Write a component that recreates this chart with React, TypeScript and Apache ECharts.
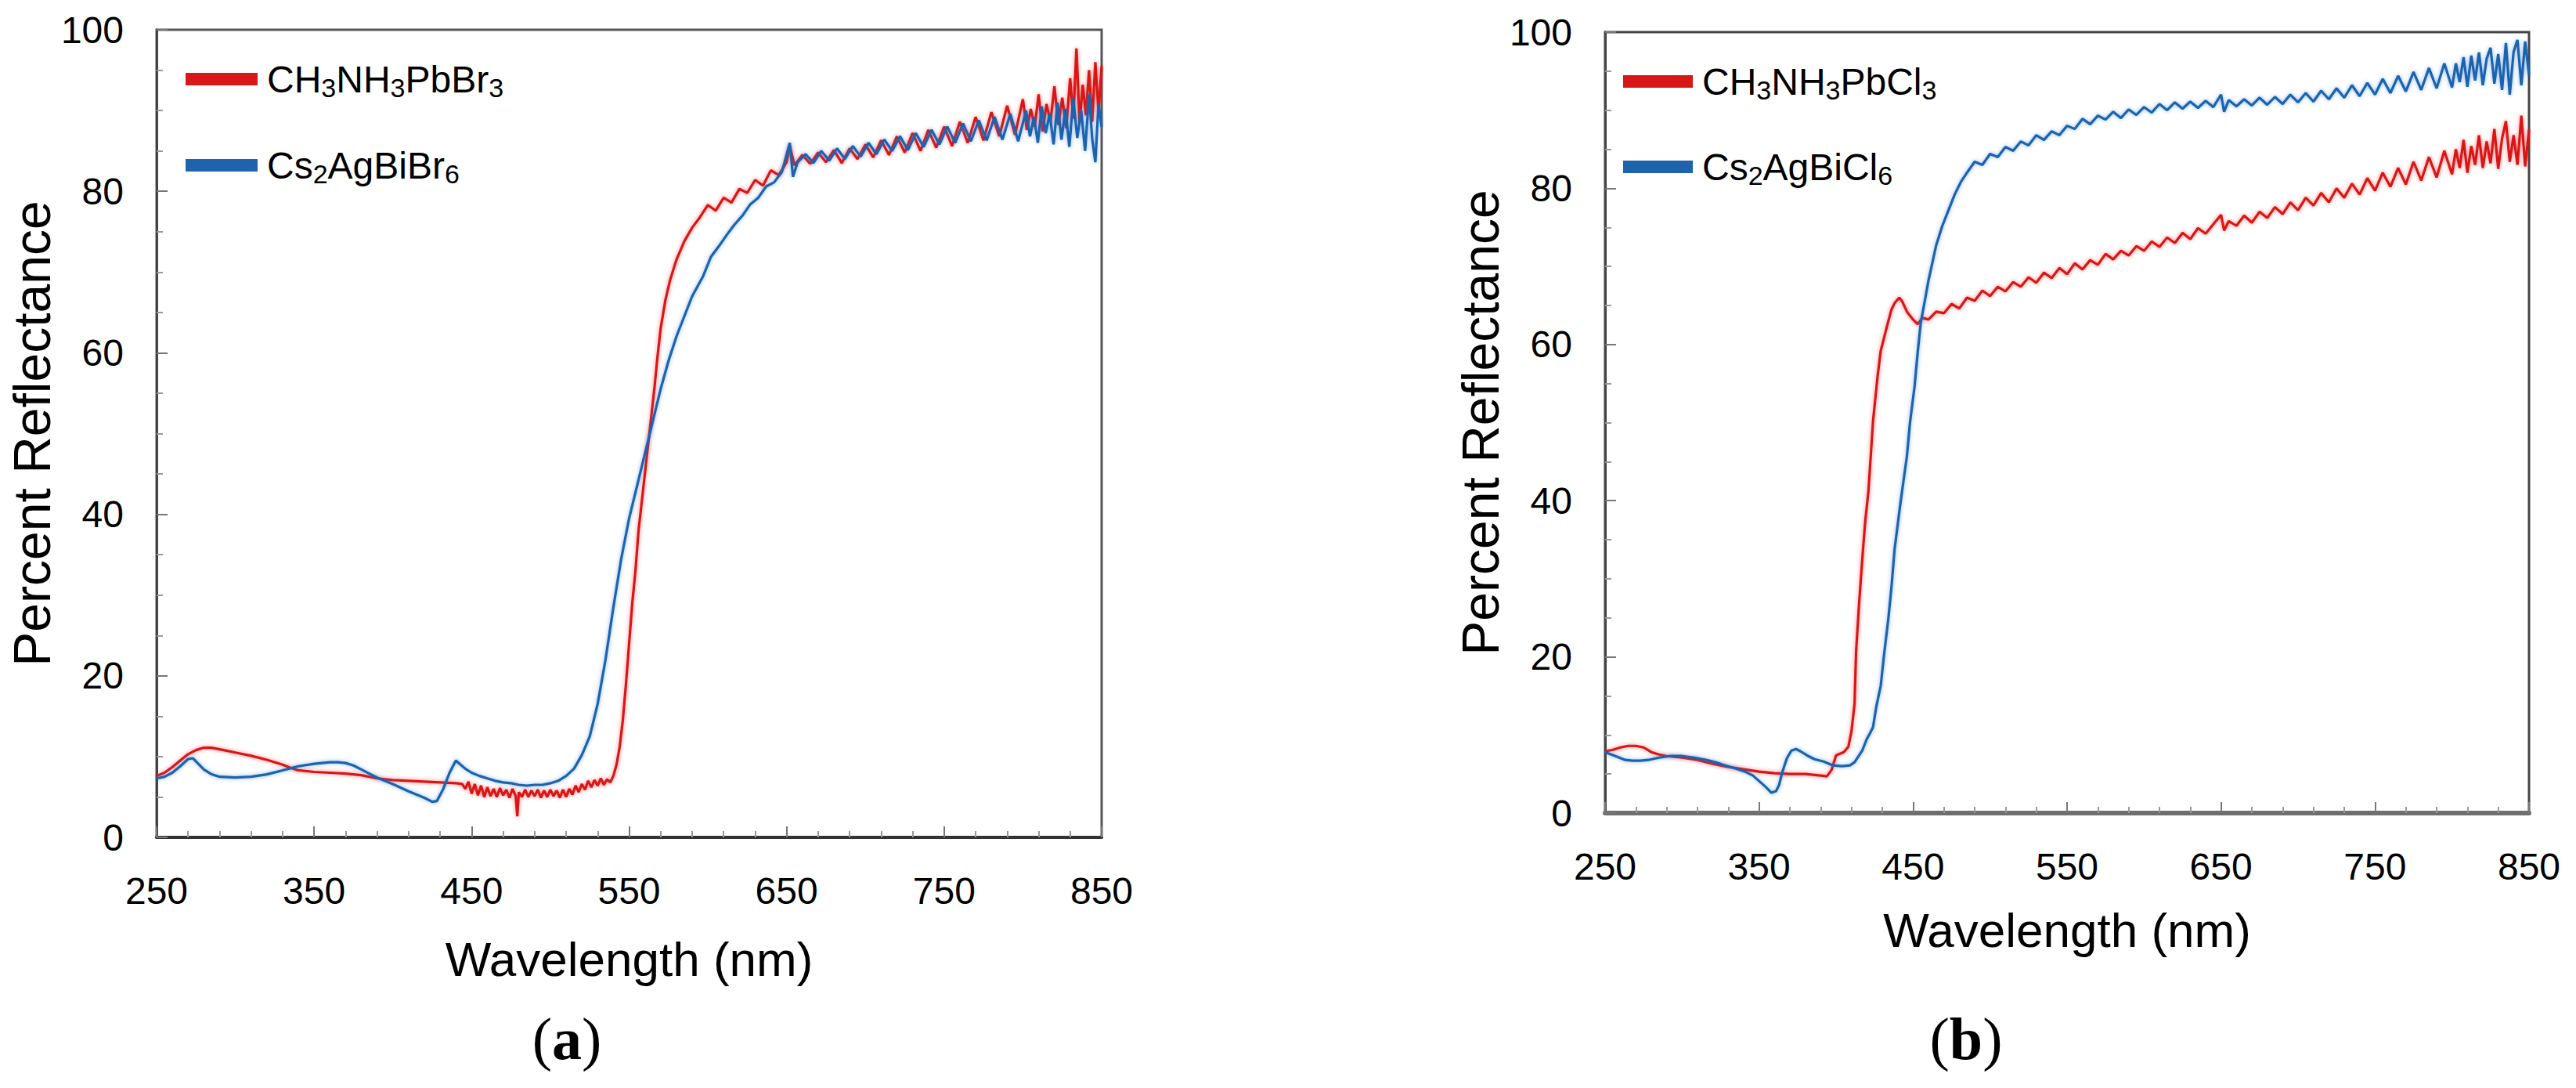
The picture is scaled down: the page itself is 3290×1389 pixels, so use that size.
import React, { useEffect, useRef } from "react";
import * as echarts from "echarts";

const FONT_SANS = "'Liberation Sans', Arial, sans-serif";
const FONT_SERIF = "'Liberation Serif', 'Times New Roman', serif";

// ---- panel (a): series names ----
const nameA1 = "CH3NH3PbBr3";
const nameA2 = "Cs2AgBiBr6";
// ---- panel (b): series names ----
const nameB1 = "CH3NH3PbCl3";
const nameB2 = "Cs2AgBiCl6";

const legendLabels: Record<string, string> = {
  CH3NH3PbBr3: "CH{s|3}NH{s|3}PbBr{s|3}",
  Cs2AgBiBr6: "Cs{s|2}AgBiBr{s|6}",
  CH3NH3PbCl3: "CH{s|3}NH{s|3}PbCl{s|3}",
  Cs2AgBiCl6: "Cs{s|2}AgBiCl{s|6}",
};

// axis ticks
const xMin = 250;
const xMax = 850;
const xStep = 100;
const yMin = 0;
const yMax = 100;
const yStep = 20;

// (a) CH3NH3PbBr3  [wavelength nm, % reflectance]
const aPbBr3: [number, number][] = [
  [250, 7.6], [255, 8.0], [260, 8.7], [265, 9.5], [270, 10.3], [275, 10.8], [280, 11.1], [285, 11.1],
  [290, 10.9], [295, 10.7], [300, 10.5], [310, 10.1], [320, 9.6], [330, 9.0], [335, 8.6], [340, 8.3],
  [350, 8.1], [360, 8.0], [370, 7.9], [380, 7.7], [390, 7.3], [400, 7.1], [410, 7.0], [420, 6.9],
  [430, 6.8], [440, 6.7], [444, 6.6], [446, 6.0], [448, 6.9], [450, 5.4], [452, 6.6], [454, 5.2],
  [456, 6.4], [458, 5.0], [460, 6.2], [462, 5.1], [464, 6.0], [466, 5.0], [468, 6.1], [470, 5.2],
  [472, 5.9], [474, 4.9], [476, 6.0], [478, 5.1], [479, 2.6], [480, 5.6], [482, 5.0], [484, 5.9],
  [486, 5.0], [488, 5.8], [490, 5.1], [492, 5.9], [494, 4.9], [496, 5.8], [498, 5.0], [500, 5.9],
  [502, 5.1], [504, 5.8], [506, 4.9], [508, 5.9], [510, 5.0], [512, 6.0], [514, 5.3], [516, 6.4],
  [518, 5.6], [520, 6.6], [522, 5.9], [524, 7.0], [526, 6.2], [528, 7.1], [530, 6.4], [532, 7.3],
  [534, 6.5], [536, 7.2], [538, 6.8], [540, 7.6], [542, 9.0], [544, 11.2], [546, 14.5], [548, 19],
  [550, 24], [552, 29], [554, 33], [556, 38], [558, 41.5], [560, 45], [562, 48.5], [564, 52],
  [566, 55.5], [568, 59.5], [570, 63], [573, 66.5], [576, 69], [580, 71.5], [585, 73.8], [590, 75.5],
  [595, 76.8], [600, 78.3], [605, 77.6], [610, 79.2], [615, 78.6], [620, 80.3], [625, 79.8], [630, 81.4],
  [635, 80.7], [640, 82.6], [645, 82.0], [650, 83.6], [652, 85.6], [655, 83.2], [660, 84.5], [665, 83.4],
  [670, 84.8], [675, 83.6], [680, 85.1], [685, 83.5], [690, 85.3], [695, 84.0], [700, 85.8], [705, 84.2],
  [710, 86.3], [715, 84.5], [720, 86.8], [725, 84.8], [730, 87.2], [735, 85.0], [740, 87.6], [745, 85.4],
  [750, 88.0], [755, 85.6], [760, 88.6], [765, 86.0], [770, 89.2], [775, 86.3], [780, 89.8], [785, 86.8],
  [790, 90.6], [795, 87.0], [800, 91.4], [802.5, 87.6], [805, 90.2], [807.5, 88.0], [810, 92.0], [812.5, 87.4],
  [815, 90.8], [817.5, 88.6], [820, 93.0], [822.5, 88.2], [825, 91.6], [827.5, 87.8], [830, 94.0], [832, 89.0],
  [834, 97.7], [836, 88.5], [838, 93.2], [840, 89.4], [842, 95.0], [844, 88.6], [846, 96.0], [848, 89.8],
  [850, 95.5],
];

// (a) Cs2AgBiBr6
const aBiBr6: [number, number][] = [
  [250, 7.3], [255, 7.5], [260, 8.0], [265, 8.8], [270, 9.7], [273, 9.8], [276, 9.2], [280, 8.4],
  [285, 7.8], [290, 7.5], [300, 7.4], [310, 7.5], [320, 7.8], [330, 8.3], [340, 8.8], [350, 9.1],
  [360, 9.3], [365, 9.3], [370, 9.2], [375, 8.9], [380, 8.4], [385, 7.9], [390, 7.4], [400, 6.6],
  [410, 5.7], [420, 4.9], [425, 4.4], [428, 4.5], [432, 6.0], [436, 8.0], [440, 9.5], [443, 9.0],
  [446, 8.5], [450, 8.0], [455, 7.6], [460, 7.3], [465, 7.0], [470, 6.8], [475, 6.7], [480, 6.5],
  [485, 6.4], [490, 6.5], [495, 6.5], [500, 6.7], [505, 7.0], [510, 7.6], [515, 8.5], [520, 10.2],
  [525, 12.5], [530, 16.5], [535, 22], [540, 28.5], [545, 34.5], [550, 39.5], [555, 43.5], [560, 47.5],
  [565, 51.5], [570, 55.5], [575, 59], [580, 62], [585, 64.5], [590, 67], [597, 69.5], [602, 71.9],
  [607, 73.2], [612, 74.6], [617, 75.9], [622, 77.0], [627, 78.4], [632, 79.2], [637, 80.6], [642, 81.1],
  [647, 82.4], [652, 86.0], [654, 81.8], [657, 83.6], [662, 84.6], [667, 83.5], [672, 85.0], [677, 83.8],
  [682, 85.3], [687, 84.0], [692, 85.6], [697, 84.3], [702, 86.0], [707, 84.6], [712, 86.4], [717, 85.0],
  [722, 86.8], [727, 85.1], [732, 87.2], [737, 85.5], [742, 87.6], [747, 85.8], [752, 88.0], [757, 86.0],
  [762, 88.4], [767, 86.2], [772, 88.8], [777, 86.3], [782, 89.2], [787, 86.4], [792, 89.6], [797, 86.2],
  [802, 90.0], [804.5, 86.8], [807, 89.2], [809.5, 86.0], [812, 90.5], [814.5, 87.2], [817, 89.6], [819.5, 85.8],
  [822, 91.0], [824.5, 86.4], [827, 90.2], [829.5, 85.5], [832, 91.5], [834.5, 86.6], [837, 90.0], [839.5, 85.0],
  [842, 92.0], [844, 86.5], [846, 83.6], [848, 90.8], [850, 88.0],
];

// (b) CH3NH3PbCl3
const bPbCl3: [number, number][] = [
  [250, 7.9], [255, 8.1], [260, 8.4], [265, 8.6], [270, 8.6], [275, 8.4], [280, 7.8], [285, 7.5],
  [290, 7.3], [300, 7.1], [310, 6.8], [320, 6.3], [330, 5.9], [340, 5.6], [350, 5.3], [360, 5.1],
  [370, 5.0], [380, 5.0], [390, 4.8], [394, 4.7], [397, 5.5], [400, 7.4], [405, 7.8], [408, 8.5],
  [410, 10.5], [412, 14], [413, 20.7], [415, 27], [417.5, 33.8], [419, 37.5], [421, 41.2], [424, 50.2],
  [427, 56], [429, 59.2], [433, 62.3], [436, 64.5], [438, 65.3], [441, 66], [443, 65.5], [446, 64.2],
  [450, 63.2], [453, 62.6], [456, 63.4], [460, 63.2], [465, 64.2], [470, 64.0], [475, 65.2], [480, 64.6],
  [485, 66.0], [490, 65.6], [495, 66.9], [500, 66.2], [505, 67.4], [510, 66.8], [515, 68.0], [520, 67.4],
  [525, 68.6], [530, 67.9], [535, 69.2], [540, 68.5], [545, 69.8], [550, 69.0], [555, 70.4], [560, 69.6],
  [565, 70.8], [570, 70.2], [575, 71.6], [580, 70.9], [585, 72.0], [590, 71.4], [595, 72.6], [600, 72.0],
  [605, 73.2], [610, 72.5], [615, 73.7], [620, 73.0], [625, 74.3], [630, 73.5], [635, 74.9], [640, 74.2],
  [645, 75.4], [650, 76.6], [652, 74.6], [655, 75.8], [660, 75.2], [665, 76.5], [670, 75.6], [675, 77.0],
  [680, 76.2], [685, 77.6], [690, 76.7], [695, 78.2], [700, 77.2], [705, 78.8], [710, 77.8], [715, 79.4],
  [720, 78.2], [725, 80.0], [730, 78.8], [735, 80.6], [740, 79.2], [745, 81.3], [750, 79.7], [755, 82.0],
  [760, 80.2], [765, 82.6], [770, 80.5], [775, 83.4], [780, 81.0], [785, 84.0], [790, 81.4], [795, 84.8],
  [800, 81.8], [802.5, 85.0], [805, 82.6], [807.5, 86.2], [810, 82.0], [812.5, 85.4], [815, 83.0], [817.5, 86.8],
  [820, 82.6], [822.5, 86.0], [825, 83.2], [827.5, 87.6], [830, 82.5], [832.5, 86.4], [835, 88.6], [837.5, 83.4],
  [840, 86.8], [842.5, 83.0], [845, 89.3], [847.5, 82.8], [850, 87.5],
];

// (b) Cs2AgBiCl6
const bBiCl6: [number, number][] = [
  [250, 7.8], [254, 7.5], [258, 7.2], [263, 6.8], [268, 6.7], [273, 6.7], [278, 6.8], [285, 7.1],
  [292, 7.3], [300, 7.3], [308, 7.1], [316, 6.8], [322, 6.5], [328, 6.1], [335, 5.7], [341, 5.3],
  [346, 4.8], [350, 4.1], [354, 3.4], [358, 2.6], [361, 2.8], [363, 3.6], [365, 5.2], [368, 7.0],
  [371, 8.0], [374, 8.2], [377, 7.9], [381, 7.4], [386, 6.9], [392, 6.6], [398, 6.1], [404, 6.0],
  [409, 6.1], [412, 6.5], [414, 7.1], [417, 8.0], [420, 9.5], [422, 10.2], [424, 11.0], [426, 13.5],
  [429, 16.3], [431, 20], [434, 25], [436, 29], [438, 33.8], [442, 40], [446, 45.7], [448, 50],
  [451, 54.7], [453, 59], [455, 62.8], [458, 66], [460, 68.2], [465, 72.7], [469, 75.2], [473, 77.2],
  [477, 79.2], [481, 80.8], [485, 82.0], [490, 83.4], [495, 83.0], [500, 84.4], [505, 84.0], [510, 85.3],
  [515, 84.8], [520, 86.0], [525, 85.5], [530, 86.8], [535, 86.2], [540, 87.3], [545, 86.8], [550, 88.0],
  [555, 87.6], [560, 88.9], [565, 88.2], [570, 89.3], [575, 88.8], [580, 89.8], [585, 89.0], [590, 90.1],
  [595, 89.4], [600, 90.4], [605, 89.7], [610, 90.8], [615, 90.0], [620, 91.0], [625, 90.2], [630, 91.1],
  [635, 90.3], [640, 91.2], [645, 90.4], [650, 92.0], [652, 89.8], [655, 91.3], [660, 90.5], [665, 91.4],
  [670, 90.6], [675, 91.6], [680, 90.7], [685, 91.7], [690, 90.8], [695, 92.0], [700, 91.0], [705, 92.2],
  [710, 91.1], [715, 92.5], [720, 91.4], [725, 92.8], [730, 91.6], [735, 93.2], [740, 91.8], [745, 93.5],
  [750, 92.0], [755, 94.0], [760, 92.2], [765, 94.4], [770, 92.4], [775, 94.9], [780, 92.6], [785, 95.4],
  [790, 92.8], [795, 96.0], [800, 92.9], [802.5, 96.0], [805, 93.6], [807.5, 96.8], [810, 93.0], [812.5, 97.0],
  [815, 93.8], [817.5, 97.4], [820, 93.2], [822.5, 96.6], [825, 98.0], [827.5, 93.4], [830, 97.2], [832.5, 92.6],
  [835, 98.6], [837.5, 92.0], [840, 97.5], [842.5, 99.0], [845, 93.2], [847.5, 98.8], [850, 94.5],
];

const RED = "#d81818";
const BLUE = "#1f63ad";

function makeXAxis(gridIndex: number, nameGap: number, lineColor: string, lineWidth: number) {
  return {
    type: "value",
    gridIndex,
    min: xMin,
    max: xMax,
    interval: xStep,
    name: "Wavelength (nm)",
    nameLocation: "middle",
    nameGap,
    nameTextStyle: { fontFamily: FONT_SANS, fontSize: 62, color: "#000" },
    axisLine: { show: true, onZero: false, lineStyle: { color: lineColor, width: lineWidth } },
    axisTick: { show: true, inside: true, length: 14, lineStyle: { color: "#777", width: 2 } },
    minorTick: { show: true, splitNumber: 5, length: 8, lineStyle: { color: "#999", width: 2 } },
    axisLabel: { fontFamily: FONT_SANS, fontSize: 48, color: "#000", margin: 44 },
    splitLine: { show: false },
  };
}

function makeYAxis(gridIndex: number, nameGap: number) {
  return {
    type: "value",
    gridIndex,
    min: yMin,
    max: yMax,
    interval: yStep,
    name: "Percent Reflectance",
    nameLocation: "middle",
    nameGap,
    nameTextStyle: { fontFamily: FONT_SANS, fontSize: 66, color: "#000" },
    axisLine: { show: true, onZero: false, lineStyle: { color: "#444", width: 3 } },
    axisTick: { show: true, inside: true, length: 14, lineStyle: { color: "#777", width: 2 } },
    minorTick: { show: true, splitNumber: 4, length: 8, lineStyle: { color: "#999", width: 2 } },
    axisLabel: { fontFamily: FONT_SANS, fontSize: 48, color: "#000", margin: 42 },
    splitLine: { show: false },
  };
}

function makeLegend(names: string[], left: number, top: number, itemWidth: number, itemGap: number) {
  return {
    data: names,
    orient: "vertical",
    left,
    top,
    itemWidth,
    itemHeight: 16,
    itemGap,
    icon: "rect",
    formatter: (n: string) => legendLabels[n] || n,
    textStyle: {
      fontFamily: FONT_SANS,
      fontSize: 48,
      lineHeight: 56,
      color: "#000",
      padding: [0, 0, 0, 7],
      rich: {
        s: { fontFamily: FONT_SANS, fontSize: 34, lineHeight: 22, verticalAlign: "bottom", color: "#000" },
      },
    },
  };
}

function makeSeries(name: string, data: [number, number][], color: string, glow: string, idx: number, z: number) {
  return {
    type: "line",
    name,
    xAxisIndex: idx,
    yAxisIndex: idx,
    data,
    showSymbol: false,
    symbol: "none",
    z,
    lineStyle: { color, width: 3.2, shadowBlur: 5, shadowColor: glow },
    itemStyle: { color },
  };
}

export default function App() {
  const ref = useRef<HTMLDivElement>(null);

  useEffect(() => {
    if (!ref.current) return;
    const chart = echarts.init(ref.current, null, { renderer: "svg" });
    const option = {
      animation: false,
      backgroundColor: "#ffffff",
      grid: [
        { left: 200, top: 38, width: 1207, height: 1031, show: true, borderColor: "#555", borderWidth: 3, containLabel: false },
        { left: 2050, top: 41, width: 1180, height: 997, show: true, borderColor: "#444", borderWidth: 3, containLabel: false },
      ],
      xAxis: [makeXAxis(0, 124, "#333", 4), makeXAxis(1, 118, "#6e6e6e", 6)],
      yAxis: [makeYAxis(0, 123), makeYAxis(1, 120)],
      legend: [
        makeLegend([nameA1, nameA2], 232, 68, 92, 54),
        makeLegend([nameB1, nameB2], 2068, 71, 89, 53),
      ],
      series: [
        makeSeries(nameA1, aPbBr3, RED, "rgba(255,30,30,0.55)", 0, 2),
        makeSeries(nameA2, aBiBr6, BLUE, "rgba(40,120,220,0.55)", 0, 3),
        makeSeries(nameB1, bPbCl3, RED, "rgba(255,30,30,0.55)", 1, 2),
        makeSeries(nameB2, bBiCl6, BLUE, "rgba(40,120,220,0.55)", 1, 3),
      ],
      graphic: [
        {
          type: "text",
          x: 724,
          y: 1326,
          style: {
            text: "{p|(}{b|a}{p|)}",
            align: "center",
            verticalAlign: "middle",
            rich: {
              p: { fontFamily: FONT_SERIF, fontSize: 76, fill: "#000" },
              b: { fontFamily: FONT_SERIF, fontSize: 76, fontWeight: "bold", fill: "#000" },
            },
          },
        },
        {
          type: "text",
          x: 2511,
          y: 1326,
          style: {
            text: "{p|(}{b|b}{p|)}",
            align: "center",
            verticalAlign: "middle",
            rich: {
              p: { fontFamily: FONT_SERIF, fontSize: 76, fill: "#000" },
              b: { fontFamily: FONT_SERIF, fontSize: 76, fontWeight: "bold", fill: "#000" },
            },
          },
        },
      ],
    };
    chart.setOption(option as any);
    return () => {
      chart.dispose();
    };
  }, []);

  return (
    <div
      ref={ref}
      style={{ position: "fixed", left: 0, top: 0, width: 3290, height: 1389, background: "#fff" }}
    />
  );
}
